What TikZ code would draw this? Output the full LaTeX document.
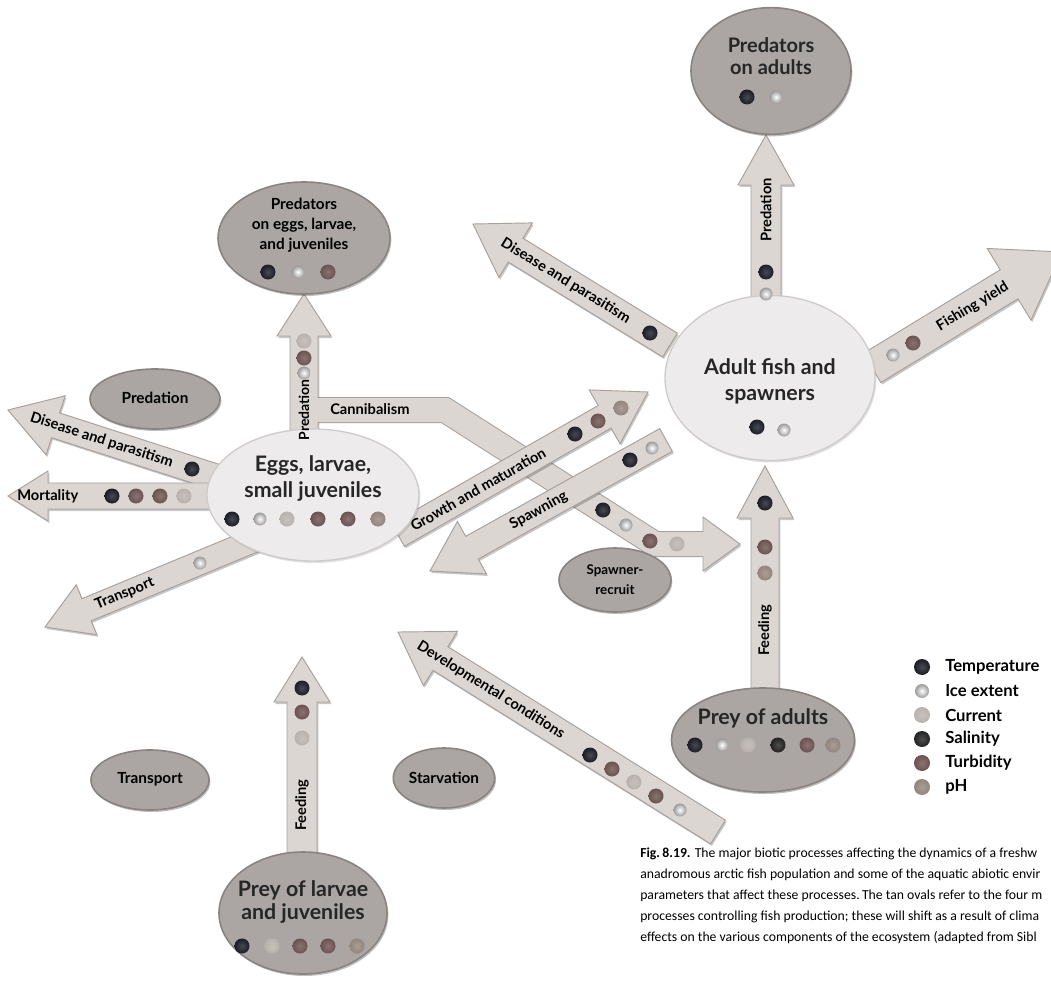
\documentclass[tikz,border=0pt]{standalone}
\usepackage{fontspec}
\setmainfont{Lato}
\newfontfamily\capfont{Carlito}
\usetikzlibrary{calc,shapes.geometric,shadows}
\definecolor{tanfill}{HTML}{ABA5A4}
\definecolor{tanedge}{HTML}{8A8382}
\definecolor{palefill}{HTML}{EDEBEB}
\definecolor{paleedge}{HTML}{CFCBCB}
\definecolor{arrfill}{HTML}{DCD6D2}
\definecolor{arredge}{HTML}{A79F9A}
\definecolor{txt}{HTML}{262626}
\definecolor{dtemp}{HTML}{1C1C26}
\definecolor{dice}{HTML}{9A9A9A}
\definecolor{dcur}{HTML}{B9B1AC}
\definecolor{dsal}{HTML}{222222}
\definecolor{dturb}{HTML}{6B5250}
\definecolor{dph}{HTML}{94857D}
\newcommand{\blockarrow}[5]{%
  \coordinate (hb) at ($(#2)!#5*0.75pt!(#1)$);
  \path[blockarr] ($(#1)!#3*0.75pt!90:(#2)$) -- ($(hb)!#3*0.75pt!90:(#2)$) -- ($(hb)!#4*0.75pt!90:(#2)$) -- (#2) -- ($(hb)!#4*0.75pt!-90:(#2)$) -- ($(hb)!#3*0.75pt!-90:(#2)$) -- ($(#1)!#3*0.75pt!-90:(#2)$) -- cycle;}
\newcommand{\edot}[2]{\shade[inner color=#1!80!white, outer color=#1] (#2) circle[radius=7.5];}
\newcommand{\idot}[1]{\shade[inner color=white, outer color=dice] (#1) circle[radius=6.5];}
\begin{document}
\begin{tikzpicture}[x=0.75pt,y=-0.75pt,
  tanoval/.style={ellipse, fill=tanfill, draw=tanedge, line width=1.2pt, inner sep=0pt, drop shadow={shadow xshift=1pt, shadow yshift=-1.5pt, fill=black, opacity=0.25}},
  paleoval/.style={ellipse, fill=palefill, draw=paleedge, line width=1pt, inner sep=0pt, drop shadow={shadow xshift=1pt, shadow yshift=-1.5pt, fill=black, opacity=0.12}},
  blockarr/.style={fill=arrfill, draw=arredge, line width=0.7pt, line join=miter, drop shadow={shadow xshift=1pt, shadow yshift=-1.5pt, fill=black, opacity=0.22}},
  bigtext/.style={font=\bfseries\fontsize{16}{19.5}\selectfont, align=center, text=txt, inner sep=0pt},
  tantext/.style={font=\bfseries\fontsize{11.5}{15}\selectfont, align=center, text=black, inner sep=0pt},
  arrtext/.style={font=\bfseries\fontsize{11}{13}\selectfont, text=black, inner sep=0pt},
  legtext/.style={font=\bfseries\fontsize{12.5}{15}\selectfont, text=black, anchor=west, inner sep=0pt},
  captext/.style={font=\capfont\fontsize{10.3}{12}\selectfont, text=black, inner sep=0pt, anchor=base west}
]
\useasboundingbox (0,0) rectangle (1051,981);
\clip (0,0) rectangle (1051,981);
\fill[white] (0,0) rectangle (1051,981);

% ---------- arrows around adults
\coordinate (a1t) at (766,312); \coordinate (a1h) at (766,135);
\blockarrow{a1t}{a1h}{15}{28}{50}
\coordinate (a2t) at (670,345); \coordinate (a2h) at (473,224);
\blockarrow{a2t}{a2h}{14}{32}{50}
\coordinate (a3t) at (872,368); \coordinate (a3h) at (1062,252);
\blockarrow{a3t}{a3h}{17}{42}{62}
\coordinate (a6t) at (765,700); \coordinate (a6h) at (765,466);
\blockarrow{a6t}{a6h}{14}{28}{52}

% ---------- cannibalism branch + predation on eggs
\coordinate (c0) at (304,410); \coordinate (c1) at (445,410);
\coordinate (c2) at (655,544); \coordinate (c3) at (703,544); \coordinate (c4) at (740,544);
\draw[arredge, line width=19.5pt, line join=miter] (c0) -- (c1) -- (c2) -- (c3);
\path[blockarr] ($(c3)!27*0.75pt!90:(c4)$) -- (c4) -- ($(c3)!27*0.75pt!-90:(c4)$) -- cycle;
\coordinate (a7t) at (304,445); \coordinate (a7h) at (304,294);
\blockarrow{a7t}{a7h}{14}{27}{42}
\draw[arrfill, line width=18pt, line join=miter] (305,410) -- (c1) -- (c2) -- (705,544);

% ---------- growth and spawning
\coordinate (a4t) at (398,535); \coordinate (a4h) at (648,392);
\blockarrow{a4t}{a4h}{13}{31}{50}
\coordinate (a5t) at (666,440); \coordinate (a5h) at (430,571);
\blockarrow{a5t}{a5h}{13}{30}{48}

% ---------- arrows around eggs
\coordinate (a8t) at (216,477); \coordinate (a8h) at (8,410);
\blockarrow{a8t}{a8h}{13}{31}{50}
\coordinate (a9t) at (225,496); \coordinate (a9h) at (8,496);
\blockarrow{a9t}{a9h}{13}{25}{40}
\coordinate (a10t) at (255,540); \coordinate (a10h) at (45,627);
\blockarrow{a10t}{a10h}{12}{27}{45}
\coordinate (a11t) at (302,855); \coordinate (a11h) at (302,657);
\blockarrow{a11t}{a11h}{15}{28}{45}
\coordinate (a12t) at (718,832); \coordinate (a12h) at (398,632);
\blockarrow{a12t}{a12h}{14}{32}{50}

% ---------- ovals
\node[tanoval, minimum width=120pt, minimum height=95pt] (predA) at (771,71) {};
\node[tanoval, minimum width=129pt, minimum height=84pt] (predE) at (304,238) {};
\node[tanoval, minimum width=97.5pt, minimum height=45pt] (predOv) at (155,399) {};
\node[tanoval, minimum width=88.5pt, minimum height=45pt] (transOv) at (150,780) {};
\node[tanoval, minimum width=76pt, minimum height=45pt] (starvOv) at (444,778) {};
\node[tanoval, minimum width=84pt, minimum height=48pt] (spawnOv) at (615,580) {};
\node[tanoval, minimum width=137.25pt, minimum height=78pt] (preyA) at (763,740) {};
\node[tanoval, minimum width=126pt, minimum height=91.5pt] (preyL) at (303,913) {};
\node[paleoval, minimum width=159pt, minimum height=99pt] (eggs) at (313,495) {};
\node[paleoval, minimum width=157.5pt, minimum height=123.75pt] (adult) at (770,378) {};

% ---------- oval texts
\node[bigtext, font=\bfseries\fontsize{15}{17}\selectfont] (predAt) at (771,56) {Predators\\on adults};
\node[tantext] (predEt) at (304,225) {Predators\\on eggs, larvae,\\and juveniles};
\node[tantext] (predOvt) at (155,398) {Predation};
\node[tantext] (transOvt) at (150,779) {Transport};
\node[tantext] (starvOvt) at (444,778) {Starvation};
\node[tantext, font=\bfseries\fontsize{10}{15}\selectfont] (spawnOvt) at (615,580) {Spawner-\\recruit};
\node[bigtext] (preyAt) at (763,718) {Prey of adults};
\node[bigtext, font=\bfseries\fontsize{16}{17}\selectfont] (preyLt) at (303,902) {Prey of larvae\\and juveniles};
\node[bigtext] (eggst) at (313,478) {Eggs, larvae,\\small juveniles};
\node[bigtext] (adultt) at (770,381) {Adult fish and\\spawners};

% ---------- arrow labels
\node[arrtext, rotate=90] (l1) at (766,210) {Predation};
\path (a2t) -- (a2h) node[arrtext, sloped, pos=0.53] (l2) {Disease and parasitism};
\path (a3t) -- (a3h) node[arrtext, sloped, pos=0.53] (l3) {Fishing yield};
\path (a4t) -- (a4h) node[arrtext, sloped, pos=0.32] (l4) {Growth and maturation};
\path (a5t) -- (a5h) node[arrtext, sloped, pos=0.54] (l5) {Spawning};
\node[arrtext, rotate=90] (l6) at (765,630) {Feeding};
\node[arrtext, rotate=90, font=\bfseries\fontsize{10.5}{12}\selectfont] (l7) at (304,410) {Predation};
\node[arrtext, anchor=west] (lcan) at (330,409) {Cannibalism};
\path (a8t) -- (a8h) node[arrtext, sloped, pos=0.55] (l8) {Disease and parasitism};
\node[arrtext, anchor=west] (l9) at (17,496) {Mortality};
\path (a10t) -- (a10h) node[arrtext, sloped, pos=0.62] (l10) {Transport};
\node[arrtext, rotate=90] (l11) at (302,805) {Feeding};
\path (a12t) -- (a12h) node[arrtext, sloped, pos=0.71] (l12) {Developmental conditions};

% ---------- dots in ovals
\edot{dtemp}{747,97} \idot{776,97}
\edot{dtemp}{268,272} \idot{298,272} \edot{dturb}{328,272}
\edot{dtemp}{757,427} \idot{784,430}
\edot{dtemp}{232,519} \idot{260,519} \edot{dcur}{287,519} \edot{dturb}{318,519} \edot{dturb}{348,519} \edot{dph}{378,519}
\edot{dtemp}{695,745} \idot{722,745} \edot{dcur}{748,745} \edot{dsal}{778,745} \edot{dturb}{807,745} \edot{dph}{833,745}
\edot{dtemp}{242,946} \edot{dcur}{272,946} \edot{dturb}{300,946} \edot{dturb}{328,946} \edot{dph}{357,946}

% ---------- dots on arrows
\edot{dtemp}{766,272} \idot{766,294}
\edot{dtemp}{650,333}
\idot{893,355} \edot{dturb}{913,343}
\edot{dtemp}{575,434} \edot{dturb}{598,421} \edot{dph}{621,408}
\edot{dtemp}{630,460} \idot{652,448}
\edot{dtemp}{765,503} \edot{dturb}{765,547} \edot{dph}{765,573}
\edot{dcur}{304,341} \edot{dturb}{304,358} \idot{304,373}
\edot{dtemp}{603,510} \idot{626,525} \edot{dturb}{650,541} \edot{dcur}{677,544}
\edot{dtemp}{192,469}
\edot{dtemp}{112,496} \edot{dturb}{136,496} \edot{dturb}{160,496} \edot{dcur}{184,496}
\idot{200,563}
\edot{dtemp}{302,688} \edot{dturb}{302,712} \edot{dcur}{302,738}
\edot{dtemp}{590,755} \edot{dturb}{612,769} \edot{dcur}{634,782} \edot{dturb}{656,796} \idot{680,810}

% ---------- legend
\shade[inner color=dtemp!80!white, outer color=dtemp] (922,667) circle[radius=8];
\shade[inner color=white, outer color=dice] (922,691) circle[radius=7];
\shade[inner color=dcur!80!white, outer color=dcur] (922,715) circle[radius=8];
\shade[inner color=dsal!80!white, outer color=dsal] (922,739) circle[radius=8];
\shade[inner color=dturb!80!white, outer color=dturb] (922,763) circle[radius=8];
\shade[inner color=dph!80!white, outer color=dph] (922,787) circle[radius=8];
\node[legtext] (lg1) at (945,667) {Temperature};
\node[legtext] (lg2) at (945,691) {Ice extent};
\node[legtext] (lg3) at (945,715) {Current};
\node[legtext] (lg4) at (945,739) {Salinity};
\node[legtext] (lg5) at (945,763) {Turbidity};
\node[legtext] (lg6) at (945,787) {pH};

% ---------- caption
\node[captext] (cap1) at (640,857) {\textbf{Fig.\,8.19.} The major biotic processes affecting the dynamics of a freshw};
\node[captext] (cap2) at (640,878) {anadromous arctic fish population and some of the aquatic abiotic envir};
\node[captext] (cap3) at (640,899) {parameters that affect these processes.\,The tan ovals refer to the four m};
\node[captext] (cap4) at (640,920) {processes controlling fish production; these will shift as a result of clima};
\node[captext] (cap5) at (640,941) {effects on the various components of the ecosystem (adapted from Sibl};
\end{tikzpicture}
\end{document}
